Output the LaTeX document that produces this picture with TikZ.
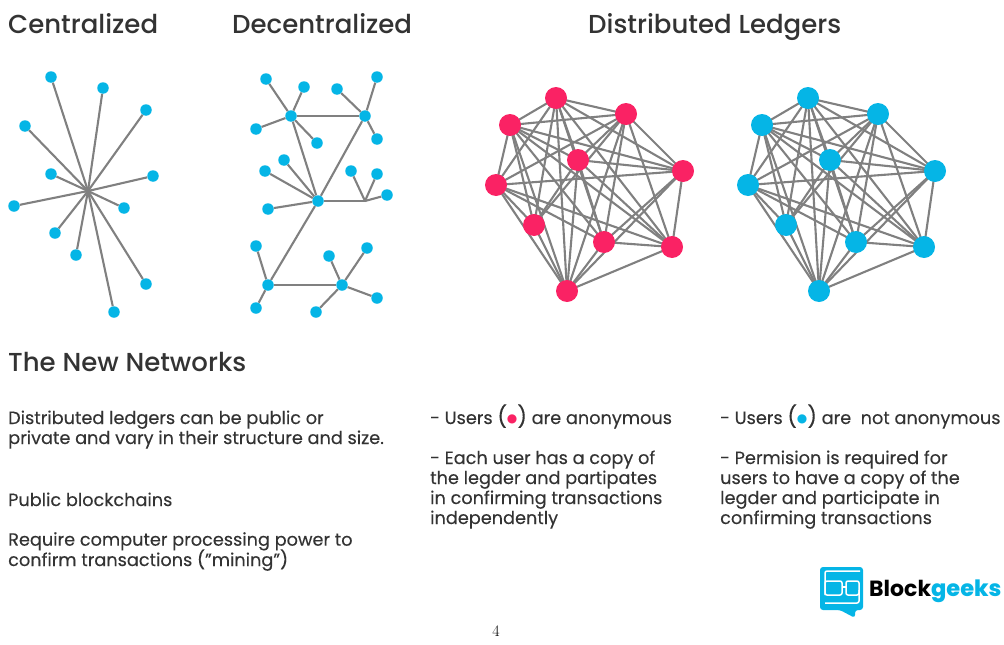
\documentclass[tikz,border=0pt]{standalone}
\usepackage{fontspec}
\usepackage{tikz}
\newfontfamily\popfont{Poppins}[FakeBold=0.25]
\newfontfamily\headfont{Poppins Medium}
\newfontfamily\logofont{Poppins}
\newfontfamily\symfont{DejaVu Sans}
\definecolor{dotblue}{HTML}{05B5E6}
\definecolor{dotpink}{HTML}{FA2264}
\definecolor{edgegray}{HTML}{808080}
\definecolor{textgray}{HTML}{333333}
\tikzset{
  leaf/.style={circle,fill=dotblue,inner sep=0pt,minimum size=11.5pt},
  hub/.style={circle,fill=dotblue,inner sep=0pt,minimum size=11.5pt},
  peerpink/.style={circle,fill=dotpink,inner sep=0pt,minimum size=22pt},
  peerblue/.style={circle,fill=dotblue,inner sep=0pt,minimum size=22pt},
  link/.style={edgegray,line width=2.1pt},
  titletext/.style={anchor=base west,inner sep=0pt,text=textgray,font=\headfont\fontsize{26}{30}\selectfont},
  bodytext/.style={anchor=base west,inner sep=0pt,align=left,text=textgray,font=\popfont\fontsize{17.7}{20}\selectfont}
}
\newcommand{\userdot}[1]{{\fontsize{21}{20}\selectfont(}{\symfont\fontsize{12}{12}\selectfont\raisebox{1.5pt}{\textcolor{#1}{●}}}{\fontsize{21}{20}\selectfont)}}
\newcommand{\ledgerlinks}{1/2,1/3,1/4,1/5,1/6,1/7,1/8,1/9,1/10,
  2/3,2/4,2/5,2/6,2/7,2/8,2/9,2/10,
  3/4,3/5,3/6,3/7,3/8,3/9,3/10,
  4/5,4/7,4/8,4/9,4/10,
  5/6,5/8,5/9,5/10,
  6/7,6/8,6/9,6/10,
  7/10,8/9,8/10,9/10}
\begin{document}
\begin{tikzpicture}[x=1pt,y=-1pt]
  \useasboundingbox (0,0) rectangle (1004,645);

  % titles
  \node[titletext] (tcentral) at (8,33) {Centralized};
  \node[titletext] (tdecentral) at (232,33) {Decentralized};
  \node[titletext] (tledger) at (588,34) {Distributed Ledgers};
  \node[titletext] (tnew) at (8,371) {The New Networks};

  % centralized
  \coordinate (chub) at (88,191);
  \foreach \name/\x/\y in {c1/51/77,c2/103/88,c3/146/110,c4/25/126,c5/153/176,c6/51/174,
                           c7/14/206,c8/124/208,c9/55/233,c10/76/255,c11/146/284,c12/114/312}{
    \node[leaf] (\name) at (\x,\y) {};
    \draw[link] (chub) -- (\name);
  }

  % decentralized
  \node[hub] (da) at (291,116) {};
  \node[hub] (db) at (365,116) {};
  \node[hub] (dc) at (318,201) {};
  \node[hub] (dd) at (268,285) {};
  \node[hub] (de) at (342,285) {};
  \coordinate (dj) at (365,201);
  \draw[link] (da) -- (db);
  \draw[link] (da) -- (dc);
  \draw[link] (db) -- (dc);
  \draw[link] (dc) -- (dd);
  \draw[link] (dd) -- (de);
  \draw[link] (dc) -- (dj);
  \foreach \name/\from/\x/\y in {l1/da/266/79,l2/da/304/87,l3/da/256/129,l4/da/317/143,
                                 l5/db/337/89,l6/db/377/77,l7/db/377/139,
                                 l8/dc/284/160,l9/dc/265/171,l10/dc/268/209,
                                 l11/dj/351/171,l12/dj/377/174,l13/dj/387/195,
                                 l14/dd/256/246,l15/dd/256/308,
                                 l16/de/329/256,l17/de/367/248,l18/de/377/298,l19/de/316/312}{
    \node[leaf] (\name) at (\x,\y) {};
    \draw[link] (\from) -- (\name);
  }

  % distributed, anonymous users
  \foreach \i/\x/\y in {1/556/98,2/626/114,3/510/125,4/578/160,5/683/171,
                        6/496/185,7/534/225,8/604/242,9/672/247,10/567/291}{
    \coordinate (p\i) at (\x,\y);
  }
  \foreach \a/\b in \ledgerlinks{
    \draw[link] (p\a) -- (p\b);
  }
  \foreach \i in {1,...,10}{
    \node[peerpink] (pn\i) at (p\i) {};
  }

  % distributed, known users
  \foreach \i/\x/\y in {1/808/98,2/878/114,3/762/125,4/830/160,5/935/171,
                        6/748/185,7/786/225,8/856/242,9/924/247,10/819/291}{
    \coordinate (q\i) at (\x,\y);
  }
  \foreach \a/\b in \ledgerlinks{
    \draw[link] (q\a) -- (q\b);
  }
  \foreach \i in {1,...,10}{
    \node[peerblue] (qn\i) at (q\i) {};
  }

  % texts
  \node[bodytext] (tintro) at (8,444) {Distributed ledgers can be public or\\private and vary in their structure and size.};
  \node[bodytext] (tpublic) at (8,506) {Public blockchains};
  \node[bodytext] (tmining) at (8,566) {Require computer processing power to\\[-2pt]confirm transactions (”mining”)};
  \node[bodytext] (tanon) at (430,424) {- Users \userdot{dotpink} are anonymous};
  \node[bodytext] (tcopy) at (430,524) {- Each user has a copy of\\the legder and partipates\\in confirming transactions\\independently};
  \node[bodytext] (tknown) at (720,424) {- Users \userdot{dotblue} are\ \ not anonymous};
  \node[bodytext] (tperm) at (720,524) {- Permision is required for\\users to have a copy of the\\legder and participate in\\confirming transactions};

  % logo
  \fill[dotblue,rounded corners=3pt] (820,567) -- (863,567) -- (863,610) -- (855,610) -- (855,618) -- (840,610) -- (820,610) -- cycle;
  \draw[white,line width=1.5pt,rounded corners=2pt] (860,571) -- (825,571) -- (825,595);
  \draw[white,line width=1.5pt,rounded corners=2pt] (825,581) rectangle (842,595);
  \draw[white,line width=1.5pt,rounded corners=2pt] (846,581) rectangle (859,595);
  \draw[white,line width=1.5pt,rounded corners=2pt] (859,590) -- (859,603) -- (825,603);
  \draw[white,line width=1.5pt] (842,587) -- (846,587);
  \node[anchor=base west,inner sep=0pt,font=\logofont\bfseries\fontsize{22}{24}\selectfont] (tlogo) at (869,596) {Block\textcolor{dotblue}{\headfont\fontsize{22.5}{24}\selectfont geeks}};

  \node[anchor=base,inner sep=0pt,font=\fontsize{16}{16}\selectfont] (tpage) at (496,636) {4};
\end{tikzpicture}
\end{document}
